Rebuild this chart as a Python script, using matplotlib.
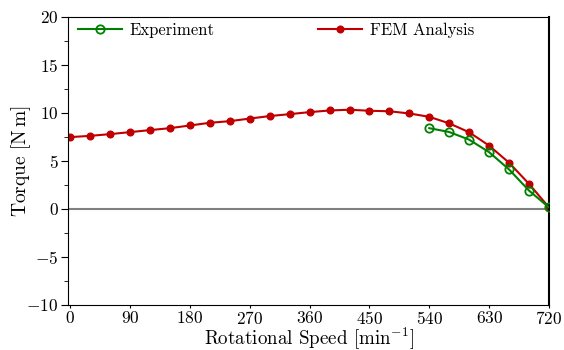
import numpy as np
import matplotlib
matplotlib.use("Agg")
import matplotlib.pyplot as plt
from matplotlib.ticker import MultipleLocator

plt.rcParams['font.family'] = 'serif'
plt.rcParams['font.serif'] = ['cmr10']
plt.rcParams['mathtext.fontset'] = 'cm'
plt.rcParams['axes.formatter.use_mathtext'] = True

# FEM analysis, every 30 min^-1
fem_speed = [0, 30, 60, 90, 120, 150, 180, 210, 240, 270, 300, 330, 360,
             390, 420, 450, 480, 510, 540, 570, 600, 630, 660, 690, 720]
fem_torque = [7.47, 7.6, 7.78, 7.99, 8.2, 8.4, 8.68, 8.96, 9.13, 9.4, 9.66, 9.86, 10.07,
              10.24, 10.32, 10.21, 10.16, 9.93, 9.58, 8.9, 7.97, 6.58, 4.8, 2.6, 0.15]

# measured
exp_speed = [540, 570, 600, 630, 660, 690, 720]
exp_torque = [8.4, 8.0, 7.2, 5.9, 4.1, 1.9, 0.15]

fig = plt.figure(figsize=(5.64, 3.5), dpi=100)
ax = fig.add_axes([0.121, 0.1286, 0.8524, 0.8237])

ax.axhline(0, color='gray', lw=1.5, zorder=1)
ax.plot(exp_speed, exp_torque, color='#008000', lw=1.5, marker='o', ms=6,
        mfc='none', mew=1.3, label='Experiment', zorder=3)
ax.plot(fem_speed, fem_torque, color='#c00000', lw=1.5, marker='o', ms=4.8,
        label='FEM Analysis', zorder=2)

ax.set_xlim(-3, 720)
ax.set_ylim(-10, 20)
ax.set_xticks(np.arange(0, 721, 90))
ax.yaxis.set_major_locator(MultipleLocator(5))
ax.yaxis.set_minor_locator(MultipleLocator(2.5))
ax.tick_params(labelsize=12.5, direction='out', top=False, right=False)
ax.tick_params(axis='x', length=2.5, pad=1)
ax.tick_params(axis='y', which='major', length=5, pad=2)
ax.tick_params(axis='y', which='minor', length=3)
ax.spines['right'].set_linewidth(1.5)

ax.set_xlabel(r'Rotational Speed [min$^{-1}$]', fontsize=13.7)
ax.set_ylabel(r'Torque [N$\,$m]', fontsize=14)
ax.yaxis.set_label_coords(-0.073, 0.5)
ax.xaxis.set_label_coords(0.5, -0.071)

ax.legend(loc='upper left', bbox_to_anchor=(0.0, 1.015), ncol=2, frameon=False,
          fontsize=12, handlelength=2.6, handletextpad=0.5, columnspacing=6.2,
          borderaxespad=0.2)

fig.savefig('out.png', dpi=100)
